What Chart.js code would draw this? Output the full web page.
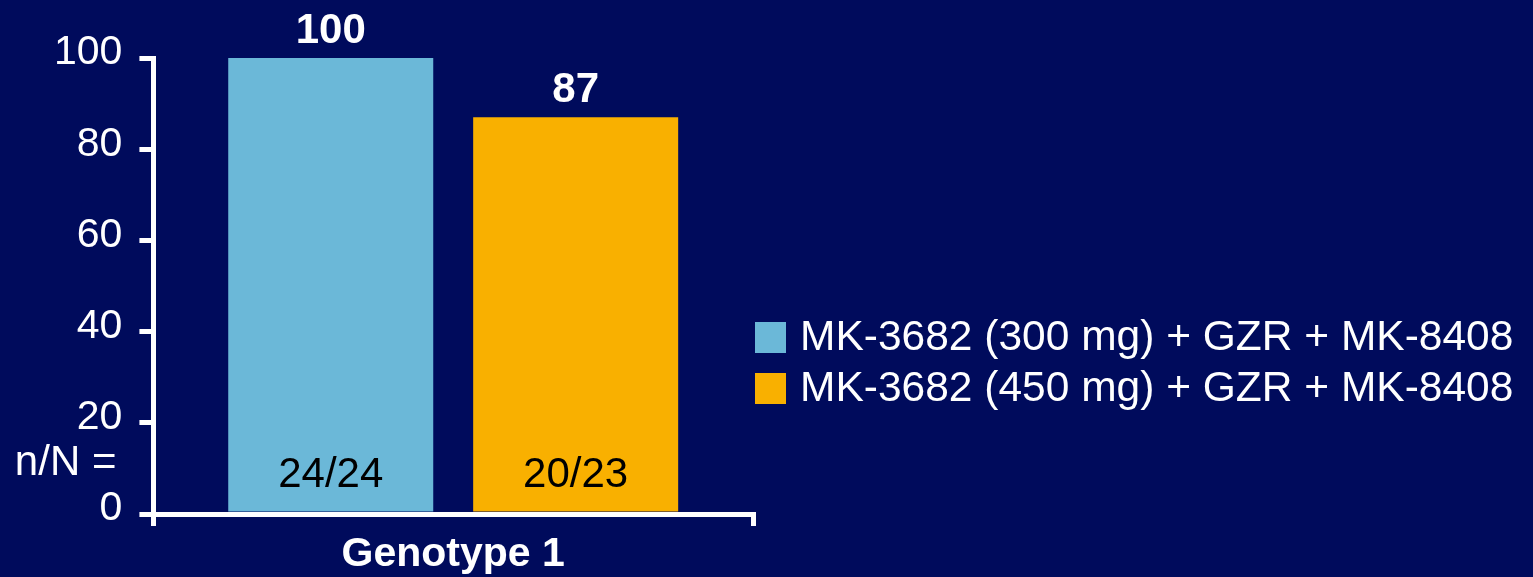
<!DOCTYPE html>
<html>
<head>
<meta charset="utf-8">
<script src="https://cdn.jsdelivr.net/npm/chart.js@4"></script>
<style>
  body { margin: 0; background: #000B5C; }
  #wrap { width: 1533px; height: 577px; }
</style>
</head>
<body>
<div id="wrap"><canvas id="grafico" width="1533" height="577"></canvas></div>
<script>
// dados do gráfico
const categorias = ['Genotype 1']
const series = ['MK-3682 (300 mg) + GZR + MK-8408', 'MK-3682 (450 mg) + GZR + MK-8408']
const valores = [100, 87]
const nN = ['24/24', '20/23']
const cores = ['#6BB8D8', '#F9B000']
const yMin = 0
const yMax = 100
const yPasso = 20

const fonte = 'Arial, "Liberation Sans", sans-serif'

// rótulos: valor acima das barras e n/N dentro delas
const rotulos = {
  id: 'rotulos',
  afterDatasetsDraw(chart) {
    const ctx = chart.ctx
    const y = chart.scales.y
    ctx.save()
    ctx.textAlign = 'center'
    chart.data.datasets.forEach((ds, i) => {
      const bar = chart.getDatasetMeta(i).data[0]
      ctx.fillStyle = '#fff'
      ctx.font = 'bold 42px ' + fonte
      ctx.textBaseline = 'alphabetic'
      ctx.fillText(ds.data[0], bar.x, bar.y - 15)
      ctx.fillStyle = '#000'
      ctx.font = '42px ' + fonte
      ctx.textBaseline = 'middle'
      ctx.fillText(nN[i], bar.x, y.getPixelForValue(8.5))
    })
    ctx.fillStyle = '#fff'
    ctx.textAlign = 'right'
    ctx.textBaseline = 'middle'
    ctx.font = '42px ' + fonte
    ctx.fillText('n/N =', chart.chartArea.left - 37, y.getPixelForValue(11))
    ctx.restore()
  }
}

// legenda à direita (a do Chart.js fica limitada a metade da largura)
const legenda = {
  id: 'legenda',
  afterDraw(chart) {
    const ctx = chart.ctx
    const x0 = chart.chartArea.right + 2
    let y0 = 322
    ctx.save()
    ctx.font = '42.5px ' + fonte
    ctx.textAlign = 'left'
    ctx.textBaseline = 'middle'
    chart.data.datasets.forEach(ds => {
      ctx.fillStyle = ds.backgroundColor
      ctx.fillRect(x0, y0, 31, 31)
      ctx.fillStyle = '#fff'
      ctx.fillText(ds.label, x0 + 45, y0 + 16)
      y0 += 51
    })
    ctx.restore()
  }
}

new Chart(document.getElementById('grafico').getContext('2d'), {
  type: 'bar',
  data: {
    labels: categorias,
    datasets: series.map((nome, i) => ({
      label: nome,
      data: [valores[i]],
      backgroundColor: cores[i],
      borderWidth: 0,
      barPercentage: 0.837,
      categoryPercentage: 0.817
    }))
  },
  options: {
    responsive: false,
    animation: false,
    layout: { padding: { left: 37, top: 58, right: 780, bottom: -6 } },
    plugins: {
      tooltip: { enabled: false },
      legend: { display: false }
    },
    scales: {
      x: {
        offset: true,
        grid: { offset: true, drawOnChartArea: false, color: '#fff', lineWidth: 5, tickLength: 12 },
        border: { color: '#fff', width: 5 },
        ticks: { color: '#fff', padding: 8, font: { family: fonte, size: 41, weight: 'bold', lineHeight: 1 } }
      },
      y: {
        min: yMin,
        max: yMax,
        grid: { drawOnChartArea: false, color: '#fff', lineWidth: 5, tickLength: 14 },
        border: { color: '#fff', width: 5 },
        ticks: { stepSize: yPasso, color: '#fff', padding: 17, labelOffset: -5, font: { family: fonte, size: 41 } }
      }
    }
  },
  plugins: [rotulos, legenda]
})
</script>
</body>
</html>
